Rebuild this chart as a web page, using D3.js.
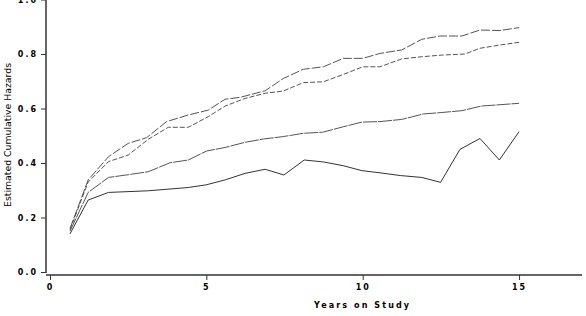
<!DOCTYPE html>
<html>
<head>
<meta charset="utf-8">
<script src="https://cdn.jsdelivr.net/npm/d3@7"></script>
<style>
  body { margin: 0; background: #fff; }
  svg { display: block; }
  .tick text { font-family: "DejaVu Sans", sans-serif; font-weight: bold; font-size: 8px; letter-spacing: 2px; fill: #000; }
</style>
</head>
<body>
<svg id="chart" width="586" height="316"></svg>
<script>
const svg = d3.select("#chart");

// données : [années, hasard cumulé]
const seriesTop = [
  [0.64, 0.16], [1.22, 0.338], [1.87, 0.423], [2.5, 0.472], [3.09, 0.493], [3.73, 0.552],
  [4.42, 0.576], [5.06, 0.594], [5.6, 0.634], [6.08, 0.641], [6.88, 0.665], [7.46, 0.71],
  [8.1, 0.744], [8.74, 0.753], [9.38, 0.784], [10.0, 0.784], [10.55, 0.802], [11.25, 0.815],
  [11.89, 0.854], [12.47, 0.866], [13.17, 0.866], [13.75, 0.888], [14.39, 0.886], [15.0, 0.897]
];
const seriesSecond = [
  [0.64, 0.155], [1.22, 0.33], [1.87, 0.405], [2.5, 0.429], [3.14, 0.487], [3.78, 0.531],
  [4.42, 0.531], [5.06, 0.57], [5.6, 0.609], [6.24, 0.637], [6.88, 0.656], [7.46, 0.664],
  [8.1, 0.695], [8.74, 0.698], [9.38, 0.725], [10.0, 0.753], [10.55, 0.753], [11.25, 0.782],
  [11.89, 0.79], [12.53, 0.796], [13.27, 0.8], [13.75, 0.821], [14.39, 0.833], [15.0, 0.843]
];
const seriesThird = [
  [0.64, 0.15], [1.22, 0.292], [1.87, 0.347], [2.5, 0.357], [3.14, 0.368], [3.84, 0.401],
  [4.42, 0.411], [5.01, 0.444], [5.6, 0.457], [6.24, 0.476], [6.82, 0.488], [7.46, 0.497],
  [8.1, 0.509], [8.72, 0.513], [9.38, 0.533], [9.97, 0.55], [10.55, 0.552], [11.25, 0.56],
  [11.94, 0.58], [12.5, 0.585], [13.17, 0.592], [13.8, 0.609], [15.0, 0.619]
];
const seriesBottom = [
  [0.64, 0.14], [1.22, 0.264], [1.87, 0.292], [3.14, 0.298], [4.42, 0.31], [5.0, 0.32],
  [5.6, 0.338], [6.24, 0.362], [6.88, 0.377], [7.48, 0.356], [8.13, 0.411], [8.74, 0.404],
  [9.38, 0.39], [9.97, 0.372], [10.55, 0.364], [11.2, 0.354], [11.89, 0.347], [12.49, 0.329],
  [13.11, 0.45], [13.75, 0.49], [14.37, 0.411], [15.0, 0.515]
];
const xTicks = [0, 5, 10, 15];
const yTicks = [0, 0.2, 0.4, 0.6, 0.8, 1.0];
const xTitle = "Years on Study";
const yTitle = "Estimated Cumulative Hazards";

const x = d3.scaleLinear().domain([0, 17]).range([50, 581.6]);
const y = d3.scaleLinear().domain([0, 1]).range([272, -0.5]);

// axe vertical
const yAxis = d3.axisLeft(y).tickValues(yTicks).tickSize(5).tickPadding(3)
  .tickFormat(d3.format(".1f"));
const gy = svg.append("g").attr("transform", "translate(46,0)").call(yAxis);
gy.select(".domain").remove();
gy.selectAll(".tick line").attr("stroke", "#333");
svg.append("line").attr("x1", 46).attr("x2", 46).attr("y1", 0).attr("y2", 273)
  .attr("stroke", "#333").attr("stroke-width", 1.5);

// axe horizontal
const xAxis = d3.axisBottom(x).tickValues(xTicks).tickSize(5).tickPadding(4)
  .tickFormat(d3.format("d"));
const gx = svg.append("g").attr("transform", "translate(0,275)").call(xAxis);
gx.select(".domain").remove();
gx.selectAll(".tick line").attr("stroke", "#333");
svg.append("line").attr("x1", 46).attr("x2", 582).attr("y1", 275).attr("y2", 275)
  .attr("stroke", "#333").attr("stroke-width", 1.5);

// titres
svg.append("text")
  .attr("x", 314).attr("y", 308)
  .attr("textLength", 95).attr("lengthAdjust", "spacing")
  .style("font-family", "DejaVu Sans, sans-serif").style("font-weight", "bold")
  .style("font-size", "8px")
  .text(xTitle);

svg.append("text")
  .attr("transform", "translate(11,207) rotate(-90)")
  .attr("textLength", 144).attr("lengthAdjust", "spacingAndGlyphs")
  .style("font-family", "DejaVu Sans Condensed, DejaVu Sans, sans-serif")
  .style("font-size", "9px")
  .text(yTitle);

// courbes
const line = d3.line().x(d => x(d[0])).y(d => y(d[1]));
const styles = [
  { data: seriesTop, dash: "9,2", color: "#555" },
  { data: seriesSecond, dash: "5,2", color: "#555" },
  { data: seriesThird, dash: "14,1", color: "#555" },
  { data: seriesBottom, dash: null, color: "#333" }
];
styles.forEach(s => {
  svg.append("path")
    .datum(s.data)
    .attr("d", line)
    .attr("fill", "none")
    .attr("stroke", s.color)
    .attr("stroke-width", 1)
    .attr("stroke-dasharray", s.dash);
});
</script>
</body>
</html>
